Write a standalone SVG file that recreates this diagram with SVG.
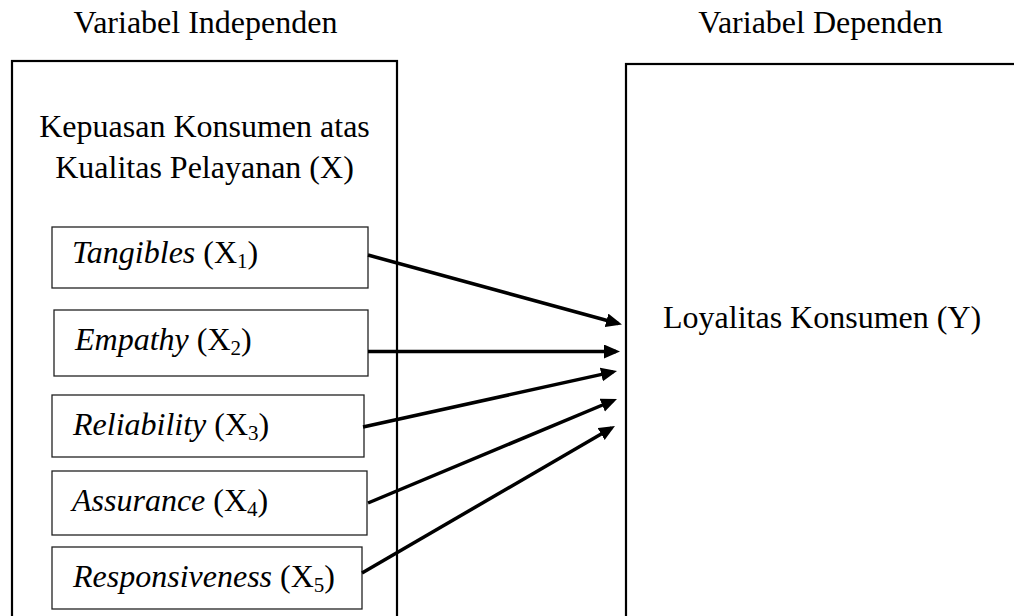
<svg xmlns="http://www.w3.org/2000/svg" width="1014" height="616" viewBox="0 0 1014 616">
<style>
text{font-family:"Liberation Serif","Times New Roman",serif;font-size:32px;fill:#000}
.it{font-style:italic}
.sub{font-size:21px}
.outer{fill:none;stroke:#000;stroke-width:2.2}
.inner{fill:#fff;stroke:#222;stroke-width:1.3}
.conn{stroke:#000;stroke-width:3.5;fill:none;marker-end:url(#ah)}
</style>
<defs>
<marker id="ah" markerUnits="userSpaceOnUse" markerWidth="17" markerHeight="15" refX="12" refY="7" orient="auto" viewBox="0 0 17 15">
<path d="M0,0 L16,7 L0,14 z" fill="#000"/>
</marker>
</defs>
<rect width="1014" height="616" fill="#fff"/>
<g id="head-independen"><text x="205.5" y="33" text-anchor="middle">Variabel Independen</text></g>
<g id="head-dependen"><text x="820.5" y="33" text-anchor="middle">Variabel Dependen</text></g>
<g id="x-group">
<rect class="outer" x="12" y="61" width="385" height="580"/>
<text x="204.5" y="137" text-anchor="middle">Kepuasan Konsumen atas</text>
<text x="204.5" y="178" text-anchor="middle">Kualitas Pelayanan (X)</text>
</g>
<g id="x1"><rect class="inner" x="52" y="227" width="316" height="61"/>
<text x="72" y="263"><tspan class="it">Tangibles</tspan> (X<tspan class="sub" dy="5">1</tspan><tspan dy="-5">)</tspan></text></g>
<g id="x2"><rect class="inner" x="54" y="310" width="314" height="66"/>
<text x="75" y="350"><tspan class="it">Empathy</tspan> (X<tspan class="sub" dy="5">2</tspan><tspan dy="-5">)</tspan></text></g>
<g id="x3"><rect class="inner" x="52" y="395" width="312" height="62"/>
<text x="73" y="435"><tspan class="it">Reliability</tspan> (X<tspan class="sub" dy="5">3</tspan><tspan dy="-5">)</tspan></text></g>
<g id="x4"><rect class="inner" x="52" y="471" width="315" height="64"/>
<text x="72" y="511"><tspan class="it">Assurance</tspan> (X<tspan class="sub" dy="5">4</tspan><tspan dy="-5">)</tspan></text></g>
<g id="x5"><rect class="inner" x="52" y="547" width="310" height="62"/>
<text x="73" y="587"><tspan class="it">Responsiveness</tspan> (X<tspan class="sub" dy="5">5</tspan><tspan dy="-5">)</tspan></text></g>
<g id="y">
<rect class="outer" x="626" y="64" width="420" height="580"/>
<text x="663" y="328">Loyalitas Konsumen (Y)</text>
</g>
<g id="connectors">
<line class="conn" x1="368" y1="255" x2="618.1" y2="323.5"/>
<line class="conn" x1="368" y1="351.5" x2="616" y2="351.5"/>
<line class="conn" x1="363" y1="427" x2="613.1" y2="371.9"/>
<line class="conn" x1="368" y1="503" x2="613.3" y2="400.5"/>
<line class="conn" x1="362" y1="573" x2="611.5" y2="428"/>
</g>
</svg>
